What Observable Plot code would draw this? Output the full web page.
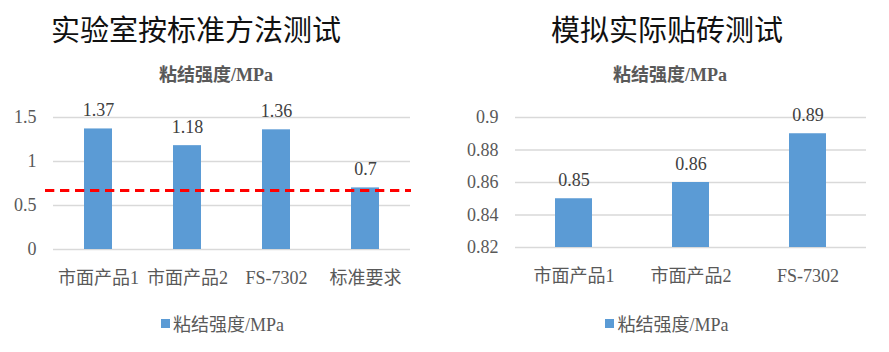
<!DOCTYPE html>
<html><head><meta charset="utf-8">
<script src="https://cdn.jsdelivr.net/npm/d3@7"></script>
<script src="https://cdn.jsdelivr.net/npm/@observablehq/plot@0.6"></script>
<style>
body{margin:0;background:#fff;}
#wrap{display:flex;width:889px;height:352px;overflow:hidden;}
.panel{flex:none;}
.title{height:56px;line-height:56px;font-family:"Noto Sans CJK SC";font-size:29px;color:#111;white-space:nowrap;}
.sub{height:38px;line-height:38px;font-family:"Liberation Serif","Noto Sans CJK SC";font-weight:bold;font-size:18px;color:#595959;text-align:center;white-space:nowrap;}
.legend{height:58px;display:flex;align-items:center;justify-content:center;font-family:"Liberation Serif","Noto Sans CJK SC";font-size:18px;color:#595959;white-space:nowrap;}
.sw{width:9px;height:9px;background:#5B9BD5;margin-right:3px;}
svg{display:block;}
</style></head>
<body>
<div id="wrap">
  <div class="panel" id="pl" style="width:445px">
    <div class="title" style="padding-left:51px">实验室按标准方法测试</div>
    <div class="sub" style="padding-right:13px">粘结强度/MPa</div>
    <div id="cl"></div>
    <div class="legend"><span class="sw"></span><span>粘结强度/MPa</span></div>
  </div>
  <div class="panel" id="pr" style="width:444px">
    <div class="title" style="text-align:center">模拟实际贴砖测试</div>
    <div class="sub" style="padding-left:6px">粘结强度/MPa</div>
    <div id="cr"></div>
    <div class="legend"><span class="sw"></span><span>粘结强度/MPa</span></div>
  </div>
</div>
<script>
const leftCats = ["市面产品1", "市面产品2", "FS-7302", "标准要求"];
const leftVals = [1.37, 1.18, 1.36, 0.7];
const leftTicks = [0, 0.5, 1, 1.5];
const leftTickLabels = ["0", "0.5", "1", "1.5"];
const standardLine = 0.67;

const rightCats = ["市面产品1", "市面产品2", "FS-7302"];
const rightVals = [0.85, 0.86, 0.89];
const rightTicks = [0.82, 0.84, 0.86, 0.88, 0.9];
const rightTickLabels = ["0.82", "0.84", "0.86", "0.88", "0.9"];

const BAR = "#5B9BD5";
const font = '"Liberation Serif","Noto Sans CJK SC",serif';

function chart({cats, vals, ticks, labels, domain, width, marginLeft, marginRight, marginTop, marginBottom, extra}) {
  const data = cats.map((c, i) => ({cat: c, val: vals[i]}));
  return Plot.plot({
    width, height: 200, marginLeft, marginRight, marginTop, marginBottom,
    style: {fontFamily: font, fontSize: "18px", color: "#595959", background: "transparent"},
    x: {domain: cats, paddingInner: 0.685, paddingOuter: 0.3425, axis: null, label: null},
    y: {domain, axis: null, label: null},
    marks: [
      Plot.ruleY(ticks, {stroke: "#D9D9D9", strokeWidth: 1.5}),
      Plot.barY(data, {x: "cat", y1: () => domain[0], y2: "val", fill: BAR}),
      ...(extra || []),
      Plot.text(data, {x: "cat", y: "val", text: d => String(d.val), dy: -18.5, lineAnchor: "middle", fill: "#404040", fontSize: 18, fontFamily: font}),
      Plot.axisY(ticks, {tickSize: 0, tickPadding: 17, tickFormat: d => labels[ticks.indexOf(d)], fill: "#595959", fontSize: 18, fontFamily: font, label: null}),
      Plot.axisX({tickSize: 0, tickPadding: 22, fill: "#595959", fontSize: 18, fontFamily: font, label: null})
    ]
  });
}

document.getElementById("cl").append(chart({
  cats: leftCats, vals: leftVals, ticks: leftTicks, labels: leftTickLabels, domain: [0, 1.5],
  width: 445, marginLeft: 53, marginRight: 35, marginTop: 23, marginBottom: 45,
  extra: [Plot.ruleY([standardLine], {stroke: "#FF0000", strokeWidth: 3, strokeDasharray: "9.3,5.7", insetLeft: -8, insetRight: -1})]
}));

document.getElementById("cr").append(chart({
  cats: rightCats, vals: rightVals, ticks: rightTicks, labels: rightTickLabels, domain: [0.82, 0.9],
  width: 444, marginLeft: 70, marginRight: 23, marginTop: 23, marginBottom: 47
}));
</script>
</body></html>
